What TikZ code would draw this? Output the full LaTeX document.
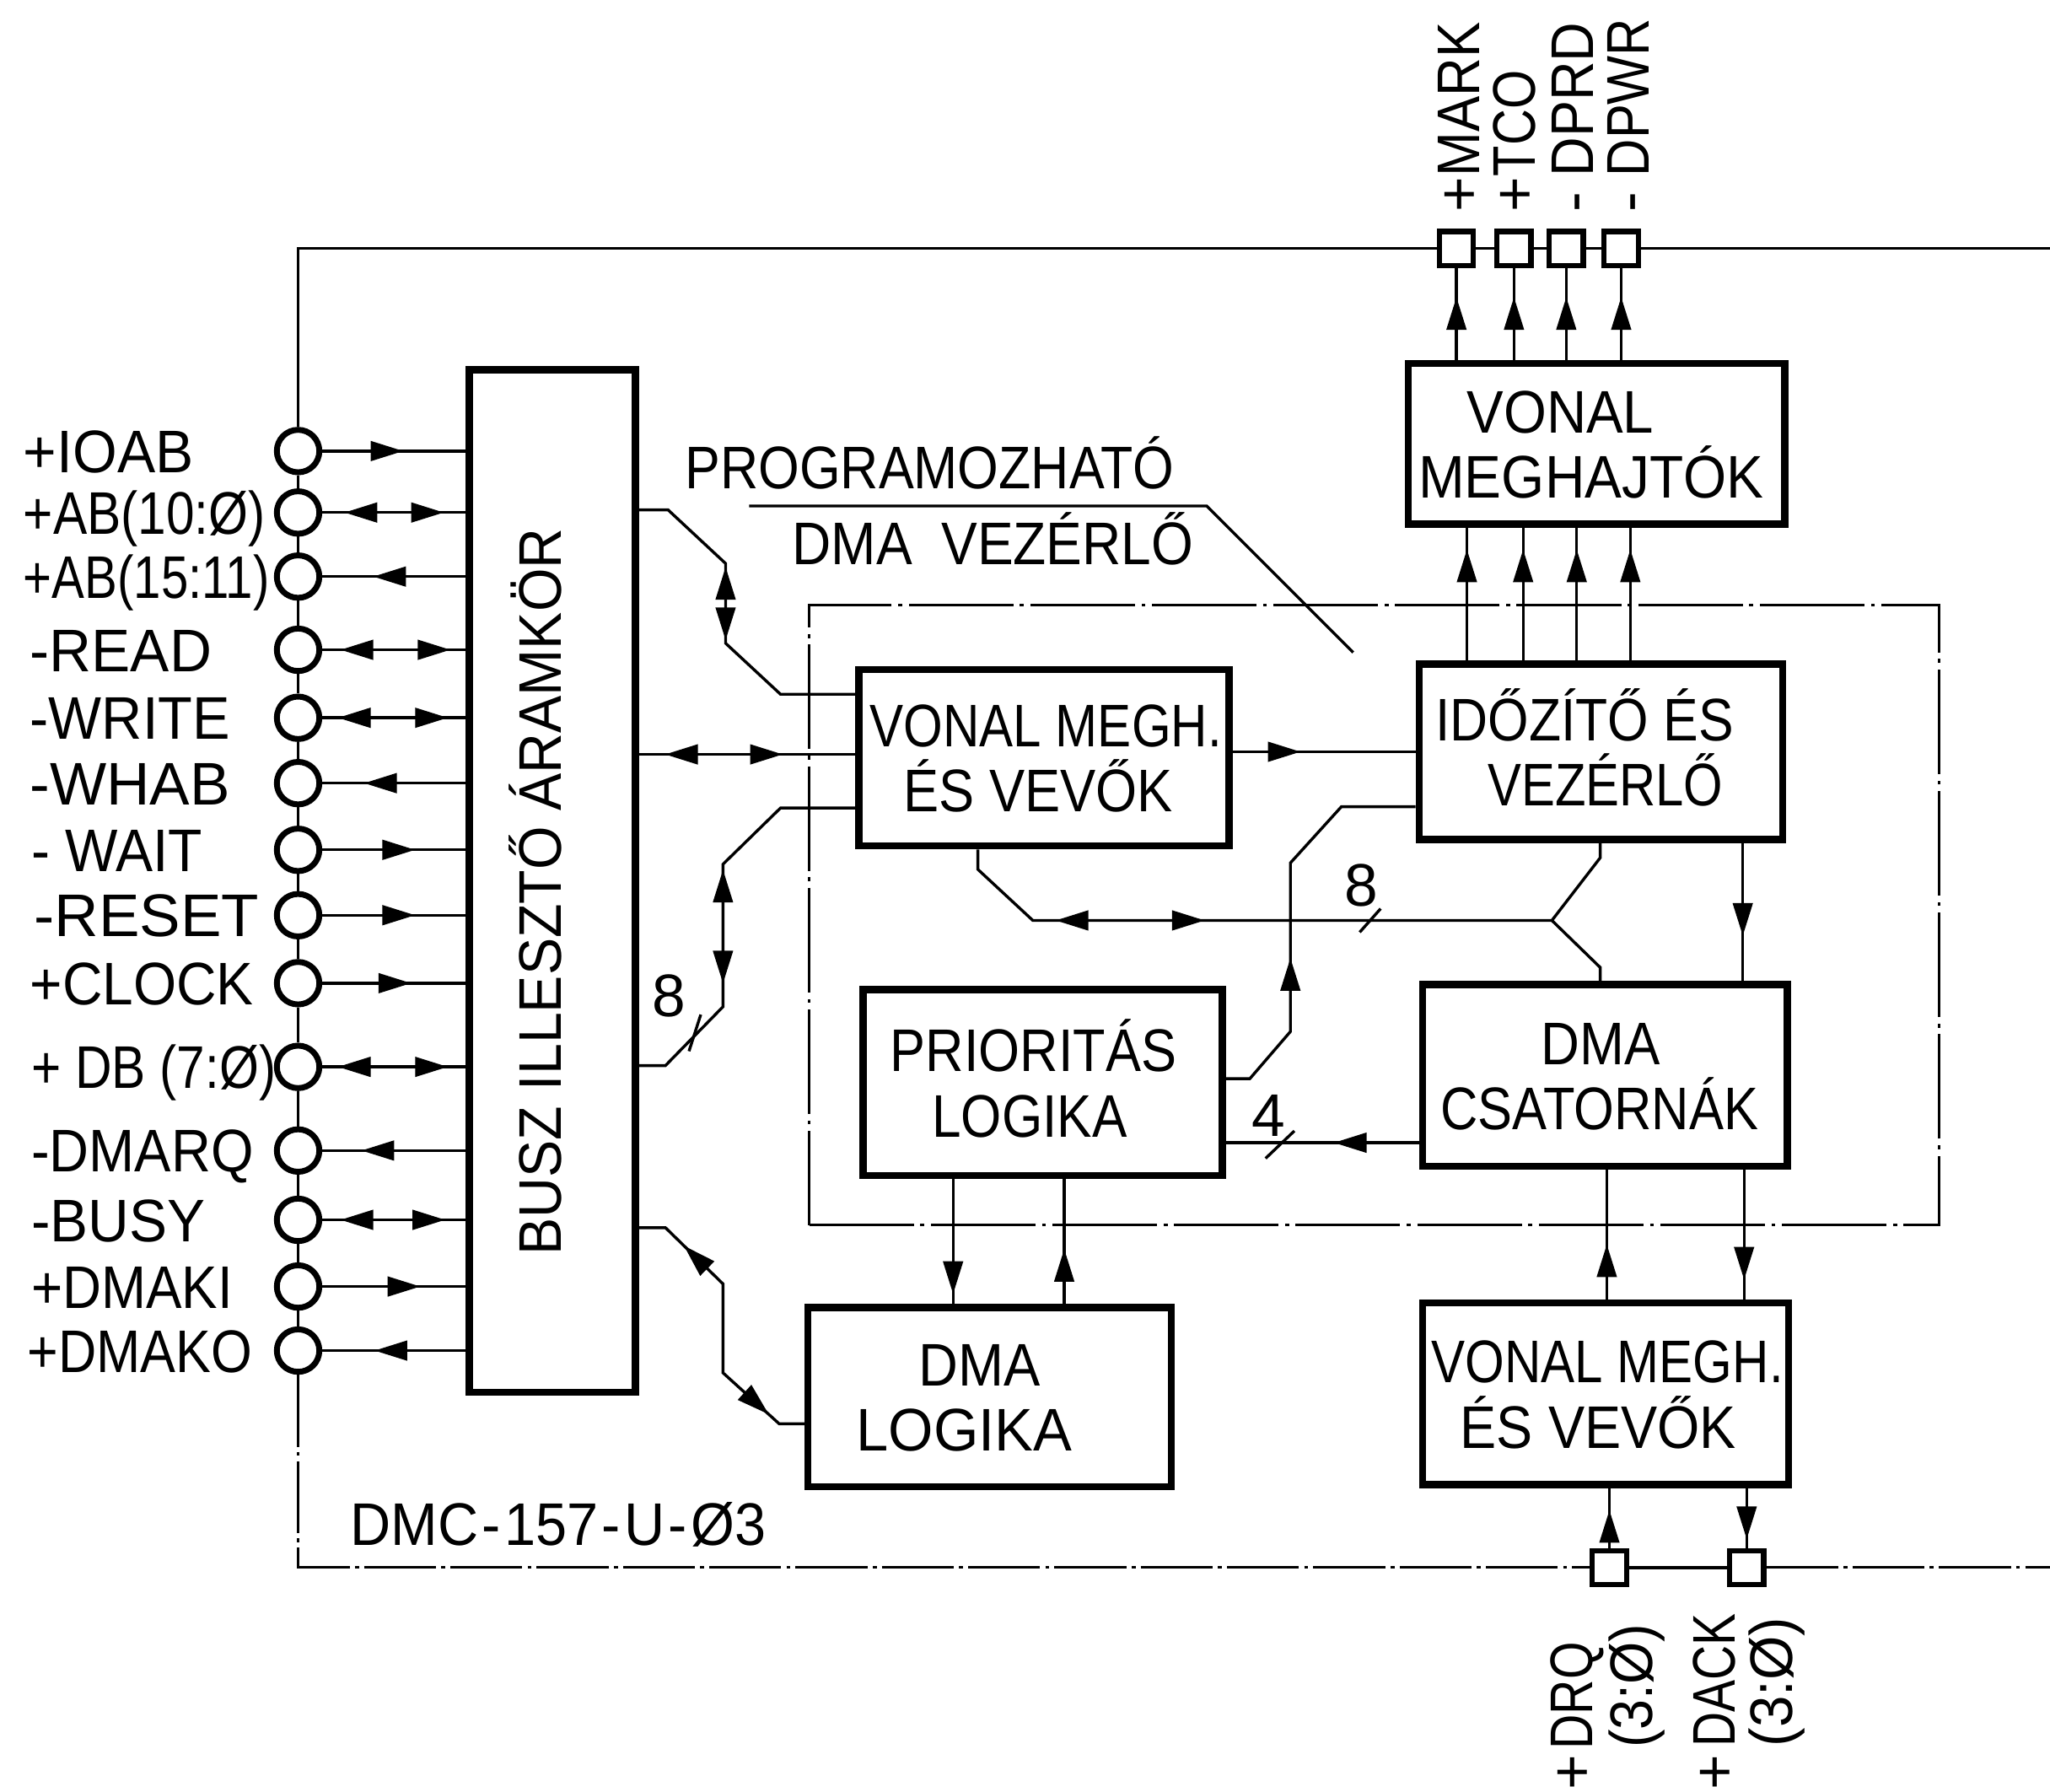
\documentclass[tikz,border=0pt]{standalone}
\usepackage{fontspec}
\usepackage{graphicx}
\setmainfont{Liberation Sans}
\usetikzlibrary{arrows.meta,decorations.markings}
\newcommand\fw[2]{\resizebox{#1}{\height}{#2}}
\newcommand\tl[3]{\rule{0pt}{33pt}\smash{\hspace*{#3}\fw{#1}{#2}\hspace*{-#3}}}
\tikzset{
  lbl/.style={font=\fontsize{46}{50}\selectfont, inner sep=0pt, outer sep=0pt},
  blk/.style={draw, line width=5.5pt, inner sep=0pt, align=center, font=\fontsize{46}{50}\selectfont},
  pin/.style={circle, draw, line width=4.5pt, minimum size=32.5pt, inner sep=0pt},
  sqp/.style={rectangle, draw, line width=4pt, minimum size=26pt, inner sep=0pt},
  wire/.style={line width=2.2pt},
  rim/.style={line width=2.4pt},
  rimdash/.style={line width=2pt, dash pattern=on 55pt off 4pt on 3pt off 4pt},
  chipbox/.style={draw, line width=2pt, dash pattern=on 80pt off 5pt on 3pt off 5pt, inner sep=0pt},
  tipf/.style={postaction={decorate,decoration={markings,mark=at position #1 with {\arrow{>}}}}},
  tipb/.style={postaction={decorate,decoration={markings,mark=at position #1 with {\arrowreversed{>}}}}},
}
\begin{document}
\begin{tikzpicture}[x=1pt,y=-1pt,>={Triangle[length=25pt,width=15pt]}]
\fill[white] (0,0) rectangle (1568,1370);
\useasboundingbox (0,0) rectangle (1568,1370);

% chip outline
\node[chipbox, minimum width=864pt, minimum height=474pt] (chip) at (1051,700) {};

% blocks
\node[blk, minimum width=127pt, minimum height=782pt] (busz) at (422.5,674) {};
\node[lbl, rotate=90, anchor=base] (buszt) at (429.5,682) {\fw{556pt}{BUSZ ILLESZTŐ ÁRAMKÖR}};
\node[blk, minimum width=283pt, minimum height=135pt] (vm1) at (798.5,579.5)
  {\tl{269pt}{VONAL MEGH.}{1.5pt}\\\tl{206pt}{ÉS VEVŐK}{-4.5pt}};
\node[blk, minimum width=278pt, minimum height=134pt] (idz) at (1224.5,575)
  {\tl{228pt}{IDŐZÍTŐ ÉS}{-12.5pt}\\\tl{180pt}{VEZÉRLŐ}{3.5pt}};
\node[blk, minimum width=288pt, minimum height=123pt] (vmt) at (1221,339.5)
  {\tl{143pt}{VONAL}{-27.5pt}\\\tl{264pt}{MEGHAJTÓK}{-4pt}};
\node[blk, minimum width=279pt, minimum height=139pt] (dmac) at (1227.5,822.5)
  {\tl{91pt}{DMA}{-3pt}\\\tl{243pt}{CSATORNÁK}{-4pt}};
\node[blk, minimum width=275pt, minimum height=142pt] (prio) at (797.5,828)
  {\tl{219pt}{PRIORITÁS}{-7pt}\\\tl{149pt}{LOGIKA}{-10pt}};
\node[blk, minimum width=278pt, minimum height=137pt] (dmal) at (757,1068.5)
  {\tl{93pt}{DMA}{-7.5pt}\\\tl{165pt}{LOGIKA}{-19.5pt}};
\node[blk, minimum width=280pt, minimum height=139pt] (vm2) at (1228,1066)
  {\tl{269pt}{VONAL MEGH.}{1.5pt}\\\tl{211pt}{ÉS VEVŐK}{-5.5pt}};

% title
\node[lbl, anchor=base west] (prog) at (524,374) {\fw{374pt}{PROGRAMOZHATÓ}};
\node[lbl, anchor=base west] (dmav) at (606,432) {\fw{307pt}{DMA\hspace{12pt} VEZÉRLŐ}};
\coordinate (leadA) at (573,387);
\coordinate (leadB) at (1035,499);
\draw[wire] (leadA) -- (923,387) -- (leadB);
\node[lbl, anchor=base west] (dmc) at (268,1182) {\fw{318pt}{DMC\hspace{3pt}-\hspace{3pt}157\hspace{3pt}-\hspace{3pt}U\hspace{3pt}-\hspace{3pt}Ø3}};

% left pins
\node[pin] (c1) at (228,345) {};
\node[pin] (c2) at (228,392) {};
\node[pin] (c3) at (228,441) {};
\node[pin] (c4) at (228,497) {};
\node[pin] (c5) at (228,549) {};
\node[pin] (c6) at (228,599) {};
\node[pin] (c7) at (228,650) {};
\node[pin] (c8) at (228,700) {};
\node[pin] (c9) at (228,752) {};
\node[pin] (c10) at (228,816) {};
\node[pin] (c11) at (228,880) {};
\node[pin] (c12) at (228,933) {};
\node[pin] (c13) at (228,984) {};
\node[pin] (c14) at (228,1033) {};

\node[lbl, anchor=base west] (l1) at (18,361.5) {\fw{130pt}{+IOAB}};
\node[lbl, anchor=base west] (l2) at (18,408.5) {\fw{185pt}{+AB(10:Ø)}};
\node[lbl, anchor=base west] (l3) at (18,457.5) {\fw{188pt}{+AB(15:11)}};
\node[lbl, anchor=base west] (l4) at (23,513.5) {\fw{139pt}{-READ}};
\node[lbl, anchor=base west] (l5) at (23,565.5) {\fw{153pt}{-WRITE}};
\node[lbl, anchor=base west] (l6) at (23,615.5) {\fw{153pt}{-WHAB}};
\node[lbl, anchor=base west] (l7) at (24,666.5) {\fw{131pt}{- WAIT}};
\node[lbl, anchor=base west] (l8) at (26,716.5) {\fw{172pt}{-RESET}};
\node[lbl, anchor=base west] (l9) at (23,768.5) {\fw{171pt}{+CLOCK}};
\node[lbl, anchor=base west] (l10) at (24,832.5) {\fw{187pt}{+ DB (7:Ø)}};
\node[lbl, anchor=base west] (l11) at (24,896.5) {\fw{170pt}{-DMARQ}};
\node[lbl, anchor=base west] (l12) at (24,949.5) {\fw{133pt}{-BUSY}};
\node[lbl, anchor=base west] (l13) at (24,1000.5) {\fw{154pt}{+DMAKI}};
\node[lbl, anchor=base west] (l14) at (21,1049.5) {\fw{172pt}{+DMAKO}};

% squares
\node[sqp] (sqA) at (1114,190) {};
\node[sqp] (sqB) at (1158,190) {};
\node[sqp] (sqC) at (1198,190) {};
\node[sqp] (sqD) at (1240,190) {};
\node[sqp] (sqE) at (1231,1199) {};
\node[sqp] (sqF) at (1336,1199) {};

\node[lbl, rotate=90, anchor=base west] (tMARK) at (1131.5,162) {\makebox[27pt][l]{+}\fw{118pt}{MARK}};
\node[lbl, rotate=90, anchor=base west] (tTCO) at (1174.5,162) {\makebox[27pt][l]{+}\fw{81pt}{TCO}};
\node[lbl, rotate=90, anchor=base west] (tDPRD) at (1218.5,162) {\makebox[27pt][l]{-}\fw{118pt}{DPRD}};
\node[lbl, rotate=90, anchor=base west] (tDPWR) at (1261.5,162) {\makebox[27pt][l]{-}\fw{121pt}{DPWR}};

\node[lbl, rotate=90, anchor=base west] (tDRQ) at (1218,1369) {\makebox[31pt][l]{+}\fw{82pt}{DRQ}};
\node[lbl, rotate=90, anchor=base west] (tDRQb) at (1264,1337) {\fw{95pt}{(3:Ø)}};
\node[lbl, rotate=90, anchor=base west] (tDACK) at (1327,1369) {\makebox[33pt][l]{+}\fw{102pt}{DACK}};
\node[lbl, rotate=90, anchor=base west] (tDACKb) at (1371,1336) {\fw{99pt}{(3:Ø)}};

% board edge
\draw[rim] (c1) -- (228,190) -- (sqA);
\draw[rim] (sqA) -- (sqB);
\draw[rim] (sqB) -- (sqC);
\draw[rim] (sqC) -- (sqD);
\draw[rim] (sqD) -- (1568,190);
\foreach \i/\j in {1/2,2/3,3/4,4/5,5/6,6/7,7/8,8/9,9/10,10/11,11/12,12/13}
  \draw[rim] (c\i) -- (c\j);
\draw[rimdash] (c13) -- (c14);
\draw[rimdash] (c14) -- (228,1199) -- (sqE);
\draw[rim] (sqE) -- (sqF);
\draw[rimdash] (sqF) -- (1568,1199);

% pin wires
\draw[wire,tipf=62pt] (c1) -- (busz.west |- c1);
\draw[wire,tipb=17pt,tipf=93pt] (c2) -- (busz.west |- c2);
\draw[wire,tipb=39pt] (c3) -- (busz.west |- c3);
\draw[wire,tipb=14pt,tipf=98pt] (c4) -- (busz.west |- c4);
\draw[wire,tipb=12pt,tipf=96pt] (c5) -- (busz.west |- c5);
\draw[wire,tipb=32pt] (c6) -- (busz.west |- c6);
\draw[wire,tipf=71pt] (c7) -- (busz.west |- c7);
\draw[wire,tipf=71pt] (c8) -- (busz.west |- c8);
\draw[wire,tipf=68pt] (c9) -- (busz.west |- c9);
\draw[wire,tipb=12pt,tipf=96pt] (c10) -- (busz.west |- c10);
\draw[wire,tipb=30pt] (c11) -- (busz.west |- c11);
\draw[wire,tipb=14pt,tipf=94pt] (c12) -- (busz.west |- c12);
\draw[wire,tipf=75pt] (c13) -- (busz.west |- c13);
\draw[wire,tipb=40pt] (c14) -- (busz.west |- c14);

% internal connectors
\draw[wire,tipb=85pt,tipf=141pt] (busz.east |- 0,390) -- (511,390) -- (555,431) -- (555,492) -- (597,531) -- (vm1.west |- 0,531);
\draw[wire,tipb=20pt,tipf=110pt] (busz.east |- 0,577) -- (vm1.west |- 0,577);
\draw[wire,tipb=101pt,tipf=188pt] (busz.east |- 0,815) -- (509,815) -- (553,770) -- (553,661) -- (597,618) -- (vm1.west |- 0,618);
\node[lbl] (n8a) at (512,762) {8};
\draw[wire] (527,804) -- (536,776);
\draw[wire,tipb=40pt,tipf=197pt] (busz.east |- 0,939) -- (509,939) -- (553,982) -- (553,1050) -- (596,1089) -- (dmal.west |- 0,1089);

\draw[wire,tipf=52pt] (vm1.east |- 0,575) -- (idz.west |- 0,575);
\coordinate (split8) at (1187,704);
\draw[wire,tipb=90pt,tipf=204pt] (vm1.south -| 748,0) -- (748,665) -- (790,704) -- (split8) -- (1224,656) -- (idz.south -| 1224,0);
\draw[wire] (split8) -- (1224,740) -- (dmac.north -| 1224,0);
\node[lbl] (n8b) at (1041,677) {8};
\draw[wire] (1040,713) -- (1056,695);

\draw[wire,tipf=122pt] (prio.east |- 0,825) -- (956,825) -- (987,789) -- (987,660) -- (1026,617) -- (idz.west |- 0,617);
\draw[wire,tipf=65pt] (dmac.west |- 0,874) -- (prio.east |- 0,874);
\node[lbl] (n4) at (970,853) {4};
\draw[wire] (968,886) -- (990,865);

\draw[wire,tipf=71pt] (idz.south -| 1333,0) -- (dmac.north -| 1333,0);
\draw[wire,tipf=88pt] (prio.south -| 729,0) -- (dmal.north -| 729,0);
\draw[wire,tipf=42pt] (dmal.north -| 814,0) -- (prio.south -| 814,0);
\draw[wire,tipf=42pt] (vm2.north -| 1229,0) -- (dmac.south -| 1229,0);
\draw[wire,tipf=84pt] (dmac.south -| 1334,0) -- (vm2.north -| 1334,0);
\draw[wire,tipf=29pt] (sqE) -- (vm2.south -| sqE);
\draw[wire,tipf=39pt] (vm2.south -| sqF) -- (sqF);

\foreach \s in {A,B,C,D}
  \draw[wire,tipf=48pt] (vmt.north -| sq\s) -- (sq\s);
\foreach \xx in {1122,1165,1206,1247}
  \draw[wire,tipf=85pt] (idz.north -| \xx,0) -- (vmt.south -| \xx,0);
\end{tikzpicture}
\end{document}
